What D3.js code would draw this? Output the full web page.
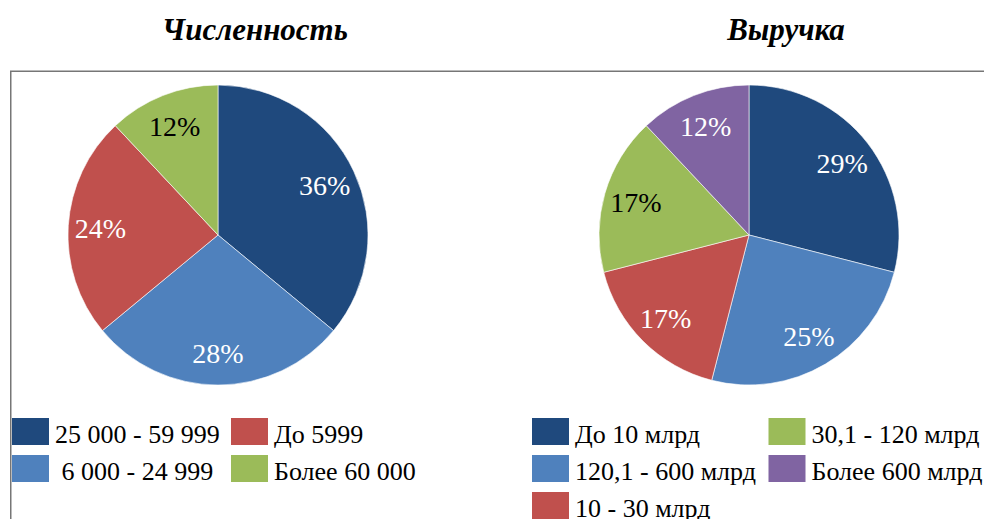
<!DOCTYPE html>
<html>
<head>
<meta charset="utf-8">
<script src="https://cdn.jsdelivr.net/npm/d3@7"></script>
</head>
<body style="margin:0">
<script>
// left pie: headcount
var staffTitle = "Численность";
var staffCategories = ["25 000 - 59 999", " 6 000 - 24 999", "До 5999", "Более 60 000"];
var staffValues = [36, 28, 24, 12];

// right pie: revenue
var revenueTitle = "Выручка";
var revenueCategories = ["До 10 млрд", "120,1 - 600 млрд", "10 - 30 млрд", "30,1 - 120 млрд", "Более 600 млрд"];
var revenueValues = [29, 25, 17, 17, 12];

var palette = ["#1F497D", "#4F81BD", "#C0504D", "#9BBB59", "#8064A2"];
var labelColors = ["#fff", "#fff", "#fff", "#000", "#fff"];

var W = 984, H = 519;
var FONT = "'Liberation Serif'";
var svg = d3.select("body").append("svg")
    .attr("width", W)
    .attr("height", H);

function addText(parent) {
    return parent.append("text")
        .attr("font-family", "Liberation Serif")
        .style("font-family", FONT);
}

// frame around both pies
svg.append("rect")
    .attr("x", 10.75)
    .attr("y", 71.25)
    .attr("width", 1100)
    .attr("height", 600)
    .attr("fill", "none")
    .attr("stroke", "#767676")
    .attr("stroke-width", 1.5);

function drawPie(opts) {
    var r = 150;

    addText(svg)
        .attr("x", opts.titleX)
        .attr("y", 40)
        .attr("text-anchor", "middle")
        .attr("font-size", 31)
        .attr("font-weight", "bold")
        .attr("font-style", "italic")
        .attr("fill", "#000")
        .text(opts.title);

    var pie = d3.pie().sort(null).value(function(d) { return d; });
    var arc = d3.arc().innerRadius(0).outerRadius(r);
    var labelArc = d3.arc().innerRadius(r * 0.785).outerRadius(r * 0.785);
    var arcs = pie(opts.values);

    var p = svg.append("g")
        .attr("transform", "translate(" + opts.cx + "," + opts.cy + ")");

    p.selectAll("path")
        .data(arcs)
        .enter()
        .append("path")
        .attr("d", arc)
        .attr("fill", function(d, i) { return palette[i]; })
        .attr("stroke", "#fff")
        .attr("stroke-width", 0.6);

    arcs.forEach(function(d, i) {
        var c = labelArc.centroid(d);
        addText(svg)
            .attr("x", opts.cx + c[0])
            .attr("y", opts.cy + c[1] + 10)
            .attr("text-anchor", "middle")
            .attr("font-size", 28)
            .attr("fill", labelColors[i])
            .text(d.data + "%");
    });

    // legend, filled column by column
    var rows = Math.ceil(opts.categories.length / 2);
    opts.categories.forEach(function(name, i) {
        var col = Math.floor(i / rows), row = i % rows;
        var x = opts.legendX + col * opts.colStep;
        var y = 418 + row * 37;
        svg.append("rect")
            .attr("x", x)
            .attr("y", y)
            .attr("width", 37)
            .attr("height", 27)
            .attr("fill", palette[i]);
        addText(svg)
            .attr("x", x + 43)
            .attr("y", y + 25)
            .attr("font-size", 26)
            .attr("fill", "#000")
            .attr("xml:space", "preserve")
            .style("white-space", "pre")
            .text(name);
    });
}

drawPie({
    title: staffTitle, titleX: 255,
    values: staffValues, categories: staffCategories,
    cx: 218, cy: 235, legendX: 12, colStep: 219
});
drawPie({
    title: revenueTitle, titleX: 786,
    values: revenueValues, categories: revenueCategories,
    cx: 749, cy: 235, legendX: 532, colStep: 236.5
});
</script>
</body>
</html>
